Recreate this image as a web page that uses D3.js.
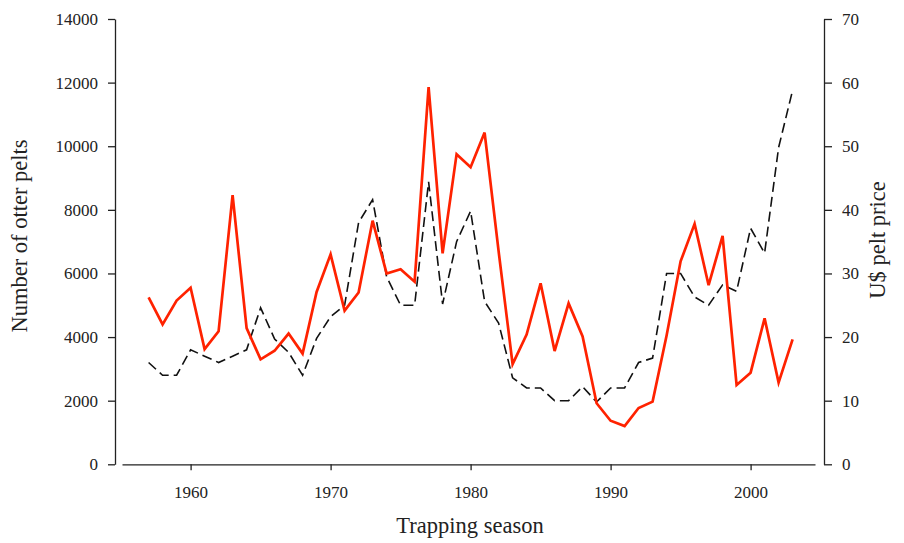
<!DOCTYPE html>
<html>
<head>
<meta charset="utf-8">
<script src="https://cdn.jsdelivr.net/npm/d3@7"></script>
<style>
  html, body { margin: 0; padding: 0; background: #fff; }
  svg text { font-family: "Liberation Serif", "DejaVu Serif", serif; fill: #222; }
</style>
</head>
<body>
<svg id="chart" width="904" height="543"></svg>
<script>
const years = d3.range(1957, 2004);
const pelts = [5250,4400,5150,5550,3620,4180,8460,4280,3300,3570,
               4110,3480,5420,6600,4830,5400,7660,6000,6130,5740,
               11860,6630,9750,9340,10430,6700,3150,4080,5690,3560,
               5060,4020,1920,1370,1200,1770,1970,4050,6380,7560,
               5630,7180,2490,2880,4590,2570,3930];
const price = [16,14,14,18,17,16,17,18,24.6,19.7,
               17.6,14,19.8,23.2,25,38,41.6,29.5,25,25,
               44.4,25.2,35,39.8,25.6,22.2,13.6,12,12,10,
               10,12.2,9.8,12,12,16,16.7,30,30,26.3,
               25,28.2,27.2,37.1,33.2,49.8,58.8];
const xTicks = [1960, 1970, 1980, 1990, 2000];
const leftTicks = [0,2000,4000,6000,8000,10000,12000,14000];
const rightTicks = [0,10,20,30,40,50,60,70];

const svg = d3.select("#chart");
const x = d3.scaleLinear().domain([1955.1, 2004.6]).range([122, 815]);
const yL = d3.scaleLinear().domain([0, 14000]).range([464.3, 19]);
const yR = d3.scaleLinear().domain([0, 70]).range([464.3, 19]);

function styleAxis(g) {
  g.selectAll("path, line").attr("stroke", "#222").attr("stroke-width", 1.3);
  g.selectAll("text").style("font-size", "17px");
}

// x axis
const gx = svg.append("g").attr("transform", "translate(0,464.3)")
  .call(d3.axisBottom(x).tickValues(xTicks).tickFormat(d3.format("d")).tickSize(6).tickSizeOuter(0).tickPadding(16));
styleAxis(gx);

// left axis
const gl = svg.append("g").attr("transform", "translate(115,0)")
  .call(d3.axisLeft(yL).tickValues(leftTicks).tickFormat(d3.format("d")).tickSize(7).tickSizeOuter(0).tickPadding(10));
styleAxis(gl);

// right axis
const gr = svg.append("g").attr("transform", "translate(824,0)")
  .call(d3.axisRight(yR).tickValues(rightTicks).tickFormat(d3.format("d")).tickSize(8).tickSizeOuter(0).tickPadding(10));
styleAxis(gr);

// lines
const linePelts = d3.line().x((d, i) => x(years[i])).y(d => yL(d));
const linePrice = d3.line().x((d, i) => x(years[i])).y(d => yR(d));

svg.append("path").datum(price)
  .attr("d", linePrice).attr("fill", "none")
  .attr("stroke", "#111").attr("stroke-width", 1.6)
  .attr("stroke-dasharray", "10,5");

svg.append("path").datum(pelts)
  .attr("d", linePelts).attr("fill", "none")
  .attr("stroke", "#ff2200").attr("stroke-width", 2.7)
  .attr("stroke-linejoin", "miter");

// titles
svg.append("text").attr("x", 470).attr("y", 533).attr("text-anchor", "middle")
  .style("font-size", "22.5px").text("Trapping season");
svg.append("text").attr("transform", "translate(27,236) rotate(-90)").attr("text-anchor", "middle")
  .style("font-size", "22.5px").text("Number of otter pelts");
svg.append("text").attr("transform", "translate(885,240) rotate(-90)").attr("text-anchor", "middle")
  .style("font-size", "22.5px").text("U$ pelt price");
</script>
</body>
</html>
